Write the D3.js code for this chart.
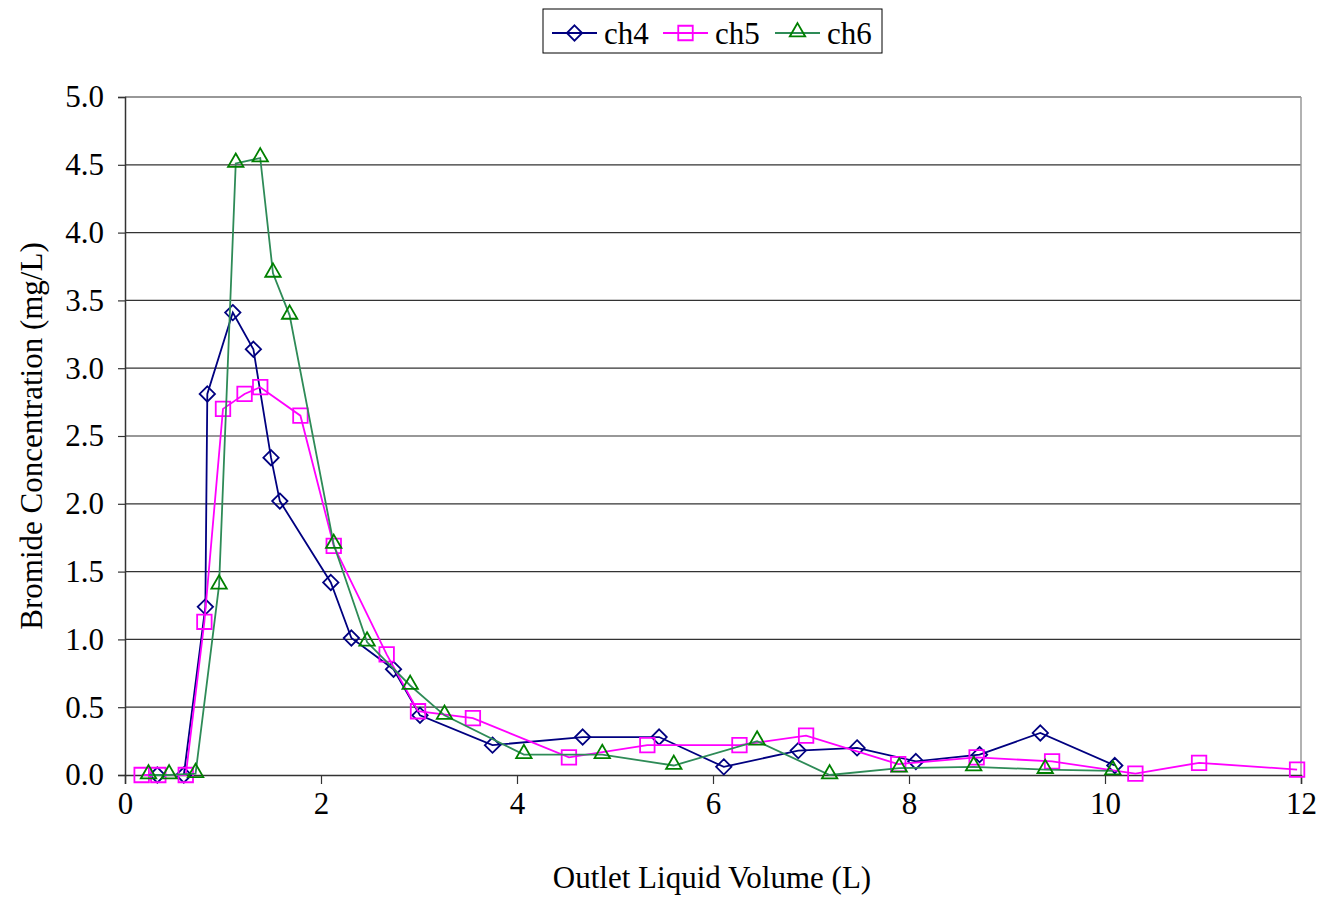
<!DOCTYPE html>
<html>
<head>
<meta charset="utf-8">
<script src="https://cdn.jsdelivr.net/npm/d3@7"></script>
<style>
  body { margin: 0; background: #fff; }
  text { font-family: "Liberation Serif", "Times New Roman", serif; }
</style>
</head>
<body>
<svg width="1323" height="898"></svg>
<script>
// data
var ch4X = [0.33, 0.60, 0.82, 0.84, 1.10, 1.31, 1.49, 1.58, 2.10, 2.31, 2.74, 3.01, 3.75, 4.67, 5.45, 6.11, 6.87, 7.47, 8.07, 8.72, 9.34, 10.10];
var ch4Y = [0.00, 0.00, 1.24, 2.81, 3.41, 3.14, 2.34, 2.02, 1.42, 1.01, 0.78, 0.44, 0.22, 0.28, 0.28, 0.06, 0.18, 0.20, 0.10, 0.15, 0.31, 0.07];

var ch5X = [0.17, 0.34, 0.62, 0.81, 1.00, 1.22, 1.38, 1.79, 2.13, 2.67, 2.99, 3.55, 4.53, 5.33, 6.27, 6.95, 7.89, 8.69, 9.46, 10.31, 10.96, 11.96];
var ch5Y = [0.00, 0.00, 0.00, 1.13, 2.70, 2.81, 2.86, 2.65, 1.69, 0.89, 0.47, 0.42, 0.13, 0.22, 0.22, 0.29, 0.08, 0.13, 0.10, 0.01, 0.09, 0.04];

var ch6X = [0.24, 0.45, 0.72, 0.96, 1.13, 1.38, 1.51, 1.68, 2.13, 2.47, 2.91, 3.26, 4.07, 4.87, 5.60, 6.45, 7.19, 7.90, 8.66, 9.39, 10.08];
var ch6Y = [0.00, 0.00, 0.01, 1.40, 4.51, 4.55, 3.70, 3.39, 1.70, 0.98, 0.66, 0.44, 0.15, 0.15, 0.07, 0.25, 0.00, 0.05, 0.06, 0.04, 0.03];

var xTicks = [0, 2, 4, 6, 8, 10, 12];
var yTicks = [0, 0.5, 1, 1.5, 2, 2.5, 3, 3.5, 4, 4.5, 5];

var series = [
  { name: "ch4", xs: ch4X, ys: ch4Y, line: "#000080", mark: "#000080", sym: "diamond" },
  { name: "ch5", xs: ch5X, ys: ch5Y, line: "#ff00ff", mark: "#ff00ff", sym: "square" },
  { name: "ch6", xs: ch6X, ys: ch6Y, line: "#2e8b57", mark: "#008000", sym: "triangle" }
];

var svg = d3.select("svg");
var plotL = 125, plotR = 1301, plotT = 97, plotB = 775;

var x = d3.scaleLinear().domain([0, 12]).range([plotL, plotR]);
var y = d3.scaleLinear().domain([0, 5]).range([plotB, plotT]);

// gridlines
svg.append("g")
  .selectAll("line")
  .data(yTicks.filter(function(d) { return d > 0; }))
  .enter().append("line")
  .attr("x1", plotL).attr("x2", plotR)
  .attr("y1", function(d) { return y(d); })
  .attr("y2", function(d) { return y(d); })
  .attr("stroke", "#333").attr("stroke-width", 1.2);

// right border
svg.append("line")
  .attr("x1", plotR).attr("x2", plotR).attr("y1", plotT).attr("y2", plotB)
  .attr("stroke", "#999").attr("stroke-width", 1.5);

// axes
var yAxis = svg.append("g")
  .attr("transform", "translate(" + plotL + ",0)")
  .call(d3.axisLeft(y).tickValues(yTicks).tickFormat(d3.format(".1f")).tickSize(7).tickPadding(14));
var xAxis = svg.append("g")
  .attr("transform", "translate(0," + plotB + ")")
  .call(d3.axisBottom(x).tickValues(xTicks).tickFormat(d3.format("d")).tickSize(9).tickPadding(8));

[yAxis, xAxis].forEach(function(a) {
  a.attr("font-size", 31).attr("font-family", "Liberation Serif, Times New Roman, serif");
  a.select(".domain").attr("stroke", "#333").attr("stroke-width", 1.5);
  a.selectAll(".tick line").attr("stroke", "#333").attr("stroke-width", 1.2);
  a.selectAll("text").attr("fill", "#000");
});

// axis titles
svg.append("text")
  .attr("x", 712).attr("y", 888)
  .attr("text-anchor", "middle").attr("font-size", 31)
  .text("Outlet Liquid Volume (L)");
svg.append("text")
  .attr("transform", "translate(42,436) rotate(-90)")
  .attr("text-anchor", "middle").attr("font-size", 31)
  .text("Bromide Concentration (mg/L)");

var symbols = {
  diamond: d3.symbol().type(d3.symbolDiamond2).size(150),
  square: d3.symbol().type(d3.symbolSquare).size(210),
  triangle: d3.symbol().type(d3.symbolTriangle2).size(170)
};

var line = d3.line()
  .x(function(d) { return x(d[0]); })
  .y(function(d) { return y(d[1]); });

series.forEach(function(s) {
  var pts = s.xs.map(function(v, i) { return [v, s.ys[i]]; });
  var g = svg.append("g");
  g.append("path")
    .attr("d", line(pts))
    .attr("fill", "none")
    .attr("stroke", s.line)
    .attr("stroke-width", 1.8);
  g.selectAll("path.m")
    .data(pts)
    .enter().append("path")
    .attr("class", "m")
    .attr("d", symbols[s.sym])
    .attr("transform", function(d) {
      var dy = s.sym == "triangle" ? -1 : 0;
      return "translate(" + x(d[0]) + "," + (y(d[1]) + dy) + ")";
    })
    .attr("fill", "none")
    .attr("stroke", s.mark)
    .attr("stroke-width", 1.8);
});

// legend
var legend = svg.append("g");
legend.append("rect")
  .attr("x", 543).attr("y", 9).attr("width", 339).attr("height", 44)
  .attr("fill", "#fff").attr("stroke", "#000").attr("stroke-width", 1);
var lx = [552, 663, 775];
series.forEach(function(s, i) {
  var item = legend.append("g").attr("transform", "translate(" + lx[i] + ",33)");
  item.append("line").attr("x1", 0).attr("x2", 45).attr("y1", 0).attr("y2", 0)
    .attr("stroke", s.line).attr("stroke-width", 1.8);
  item.append("path")
    .attr("d", symbols[s.sym])
    .attr("transform", "translate(22.5," + (s.sym == "triangle" ? -1 : 0) + ")")
    .attr("fill", "none").attr("stroke", s.mark).attr("stroke-width", 1.8);
  item.append("text")
    .attr("x", 52).attr("y", 11)
    .attr("font-size", 31)
    .text(s.name);
});
</script>
</body>
</html>
